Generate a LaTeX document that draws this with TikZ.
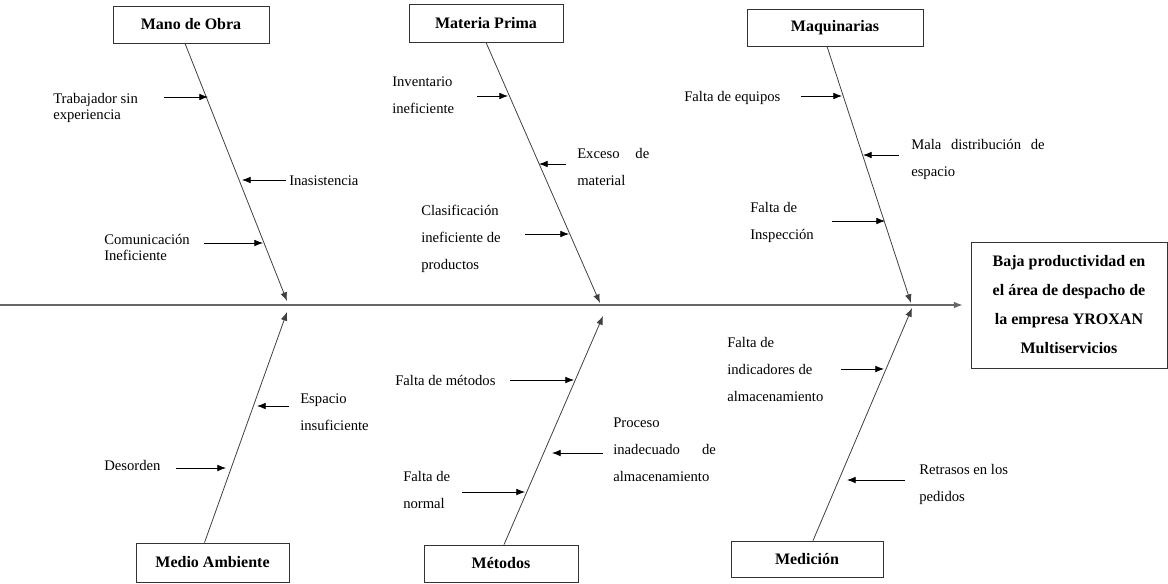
\documentclass[tikz,border=0pt]{standalone}
\usepackage{fontspec}
\setmainfont{Liberation Serif}
\usetikzlibrary{arrows.meta,calc}
\tikzset{
  box/.style={draw=black!80, line width=0.6pt, inner sep=0pt, font=\fontsize{12}{14}\selectfont\bfseries},
  lbl/.style={anchor=base west, align=left, inner sep=0pt, font=\fontsize{11}{12}\selectfont},
  lblw/.style={lbl, font=\fontsize{11}{20}\selectfont},
  bone/.style={draw=black!75, line width=0.6pt, -{Latex[length=6.5pt,width=5pt]}},
  cause/.style={draw=black, line width=0.6pt, -{Latex[length=6.5pt,width=5pt]}},
}
\begin{document}
\begin{tikzpicture}[x=0.75pt,y=-0.75pt]
    \useasboundingbox (0,0) rectangle (1168,583);
    % cabeza y espina
    \node[box, minimum width=147pt, minimum height=94.5pt, align=center, font=\fontsize{12}{21.75}\selectfont\bfseries] (ef) at (1069,305)
      {Baja productividad en\\el área de despacho de\\la empresa YROXAN\\Multiservicios};
    \coordinate (s0) at (0,305);
    \draw[draw=black!60, line width=1pt, -{Latex[length=6.5pt,width=5pt]}] (s0) -- ($(ef.west)+(-8,0)$);
    % categorias
    \node[box, minimum width=117pt, minimum height=27.75pt] (mo) at (191,24.5) {Mano de Obra};
    \node[box, minimum width=115.5pt, minimum height=28.5pt] (mp) at (486,23) {Materia Prima};
    \node[box, minimum width=132pt, minimum height=27.75pt] (mq) at (835,27.5) {Maquinarias};
    \node[box, minimum width=114.75pt, minimum height=29.25pt] (ma) at (212.5,562.5) {Medio Ambiente};
    \node[box, minimum width=115.5pt, minimum height=27.75pt] (me) at (501,563.5) {Métodos};
    \node[box, minimum width=114pt, minimum height=27pt] (md) at (807,559) {Medición};
    \coordinate (mo-e) at (287,301);
    \coordinate (mp-e) at (600,303);
    \coordinate (mq-e) at (911,303);
    \coordinate (ma-e) at (287,312);
    \coordinate (me-e) at (603,316);
    \coordinate (md-e) at (912,308);
    \draw[bone] ($(mo.south)+(-6,0)$) -- (mo-e);
    \draw[bone] (mp.south) -- (mp-e);
    \draw[bone] ($(mq.south)+(-8,0)$) -- (mq-e);
    \draw[bone] ($(ma.north)+(-8,0)$) -- (ma-e);
    \draw[bone] ($(me.north)+(3,0)$) -- (me-e);
    \draw[bone] ($(md.north)+(6,0)$) -- (md-e);
    % mano de obra
    \node[lbl] (trab) at (53,119) {Trabajador sin\\experiencia};
    \draw[cause] (164,97) coordinate (trab-a) -- (208,97) coordinate (trab-b);
    \node[lbl] (inas) at (289,185) {Inasistencia};
    \draw[cause] (286,180) coordinate (inas-a) -- (242,180) coordinate (inas-b);
    \node[lbl] (comu) at (104,260) {Comunicación\\Ineficiente};
    \draw[cause] (204,243) coordinate (comu-a) -- (263,243) coordinate (comu-b);
    % materia prima
    \node[lblw] (inve) at (392,113) {Inventario\\ineficiente};
    \draw[cause] (477,96) coordinate (inve-a) -- (508,96) coordinate (inve-b);
    \node[lblw] (exce) at (577,185) {\makebox[54pt][s]{Exceso de}\\material};
    \draw[cause] (566,164) coordinate (exce-a) -- (539,164) coordinate (exce-b);
    \node[lblw] (clas) at (421,269) {Clasificación\\ineficiente de\\productos};
    \draw[cause] (525,234) coordinate (clas-a) -- (569,234) coordinate (clas-b);
    % maquinarias
    \node[lbl] (fequ) at (684,101) {Falta de equipos};
    \draw[cause] (801,96) coordinate (fequ-a) -- (842,96) coordinate (fequ-b);
    \node[lblw] (mala) at (911,176) {\makebox[100pt][s]{Mala distribución de}\\espacio};
    \draw[cause] (899,155) coordinate (mala-a) -- (863,155) coordinate (mala-b);
    \node[lblw] (insp) at (750,239) {Falta de\\Inspección};
    \draw[cause] (832,221) coordinate (insp-a) -- (885,221) coordinate (insp-b);
    % medio ambiente
    \node[lblw] (espa) at (300,430) {Espacio\\insuficiente};
    \draw[cause] (289,406) coordinate (espa-a) -- (257,406) coordinate (espa-b);
    \node[lbl] (deso) at (104,470) {Desorden};
    \draw[cause] (176,468) coordinate (deso-a) -- (226,468) coordinate (deso-b);
    % metodos
    \node[lbl] (fmet) at (395,385) {Falta de métodos};
    \draw[cause] (510,380) coordinate (fmet-a) -- (574,380) coordinate (fmet-b);
    \node[lblw] (proc) at (613,481) {Proceso\\\makebox[77pt][s]{inadecuado de}\\almacenamiento};
    \draw[cause] (603,453) coordinate (proc-a) -- (552,453) coordinate (proc-b);
    \node[lblw] (fnor) at (403,508) {Falta de\\normal};
    \draw[cause] (462,492) coordinate (fnor-a) -- (525,492) coordinate (fnor-b);
    % medicion
    \node[lblw] (find) at (727,401) {Falta de\\indicadores de\\almacenamiento};
    \draw[cause] (841,369) coordinate (find-a) -- (884,369) coordinate (find-b);
    \node[lblw] (retr) at (919,501) {Retrasos en los\\pedidos};
    \draw[cause] (905,480) coordinate (retr-a) -- (847,480) coordinate (retr-b);
  \end{tikzpicture}
\end{document}
